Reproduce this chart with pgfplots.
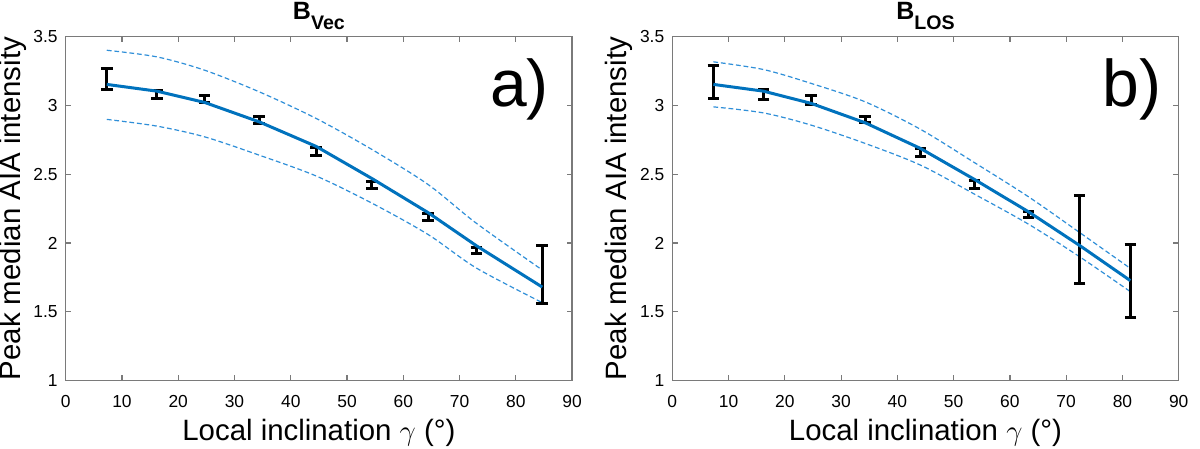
\documentclass[border=0pt]{standalone}
\usepackage{pgfplots}
\pgfplotsset{compat=1.18}
\usepackage{fontspec}
\setmainfont{Liberation Sans}
\definecolor{axgray}{HTML}{7A7A7A}
\definecolor{fitblue}{HTML}{0072BD}
\definecolor{dashblue}{HTML}{2F8FD8}
\pgfplotsset{
  myax/.style={
    scale only axis, width=253.2pt, height=172.1pt,
    xmin=0, xmax=90, ymin=1, ymax=3.5,
    xtick={0,10,...,90}, ytick={1,1.5,2,2.5,3,3.5},
    tick align=inside, major tick length=2.6pt,
    axis line style={draw=axgray, line width=0.6pt},
    every tick/.style={draw=axgray, line width=0.6pt},
    ticklabel style={font=\fontsize{8.7}{10}\selectfont},
    /pgf/number format/assume math mode=true,
    xticklabel style={yshift=-4pt},
    yticklabel style={xshift=-0.5pt},
    label style={font=\fontsize{14.7}{17}\selectfont},
    xlabel={Local inclination $\gamma$ (°)},
    ylabel={Peak median AIA intensity},
    xlabel style={at={(rel axis cs:0.5,-0.174)}, anchor=base},
    ylabel style={at={(rel axis cs:-0.0898,0.5)}, anchor=base},
    every axis title shift=0pt,
    title style={at={(rel axis cs:0.5,1.048)}, anchor=base, font=\bfseries\fontsize{12.5}{14}\selectfont},
    clip=false,
  },
  fitline/.style={fitblue, line width=1.5pt, mark=none},
  dashline/.style={dashblue, line width=0.6pt, dash pattern=on 2.4pt off 1.4pt, mark=none, smooth},
  ebar/.style={draw=none, mark=none,
    error bars/.cd, y dir=both, y explicit, error mark=|,
    error bar style={draw=black, line width=1.5pt},
    error mark options={draw=black, line width=1.5pt, mark size=2.9pt}},
}
\begin{document}
\begin{tikzpicture}
\useasboundingbox (0,0) rectangle (600pt,224.5pt);
\begin{axis}[myax, at={(32.85pt,34.15pt)}, anchor=south west,
  title={B\raisebox{-5pt}{\fontsize{9.8}{11}\selectfont Vec}}]
\addplot[dashline] coordinates {(7.3,3.40) (16.2,3.352) (24.7,3.255) (34.4,3.098) (44.5,2.905) (54.4,2.68) (64.4,2.425) (73.0,2.143) (84.7,1.804)};
\addplot[dashline] coordinates {(7.3,2.898) (16.2,2.849) (24.7,2.771) (34.4,2.638) (44.5,2.487) (54.4,2.29) (64.4,2.062) (73.0,1.818) (84.7,1.567)};
\addplot[ebar] table[x index=0, y index=1, y error index=2] {
7.3  3.19  0.078
16.2 3.08  0.030
24.7 3.045 0.025
34.4 2.893 0.024
44.5 2.666 0.028
54.4 2.421 0.024
64.4 2.19  0.027
73.0 1.946 0.022
84.7 1.772 0.208
};
\addplot[fitline] coordinates {(7.3,3.152) (16.2,3.103) (24.7,3.021) (34.4,2.88) (44.5,2.702) (54.4,2.469) (64.4,2.221) (73.0,1.98) (84.7,1.68)};
\node[anchor=base west, inner sep=0pt, font=\fontsize{33}{38}\selectfont] at (rel axis cs:0.8376,0.796) {a)};
\end{axis}
\begin{axis}[myax, at={(336.15pt,34.15pt)}, anchor=south west,
  title={B\raisebox{-5pt}{\fontsize{9.8}{11}\selectfont LOS}}]
\addplot[dashline] coordinates {(7.3,3.316) (16.2,3.26) (24.7,3.159) (34.3,3.025) (44.1,2.826) (53.7,2.584) (63.3,2.336) (72.4,2.076) (81.4,1.816)};
\addplot[dashline] coordinates {(7.3,2.989) (16.2,2.945) (24.7,2.856) (34.3,2.723) (44.1,2.566) (53.7,2.355) (63.3,2.137) (72.4,1.90) (81.4,1.647)};
\addplot[ebar] table[x index=0, y index=1, y error index=2] {
7.3  3.17  0.120
16.2 3.079 0.036
24.7 3.041 0.033
34.3 2.897 0.025
44.1 2.66  0.030
53.7 2.427 0.028
63.3 2.208 0.024
72.4 2.025 0.322
81.4 1.725 0.265
};
\addplot[fitline] coordinates {(7.3,3.152) (16.2,3.103) (24.7,3.014) (34.3,2.873) (44.1,2.687) (53.7,2.462) (63.3,2.227) (72.4,1.982) (81.4,1.727)};
\node[anchor=base west, inner sep=0pt, font=\fontsize{33}{38}\selectfont] at (rel axis cs:0.8486,0.796) {b)};
\end{axis}
\end{tikzpicture}
\end{document}
